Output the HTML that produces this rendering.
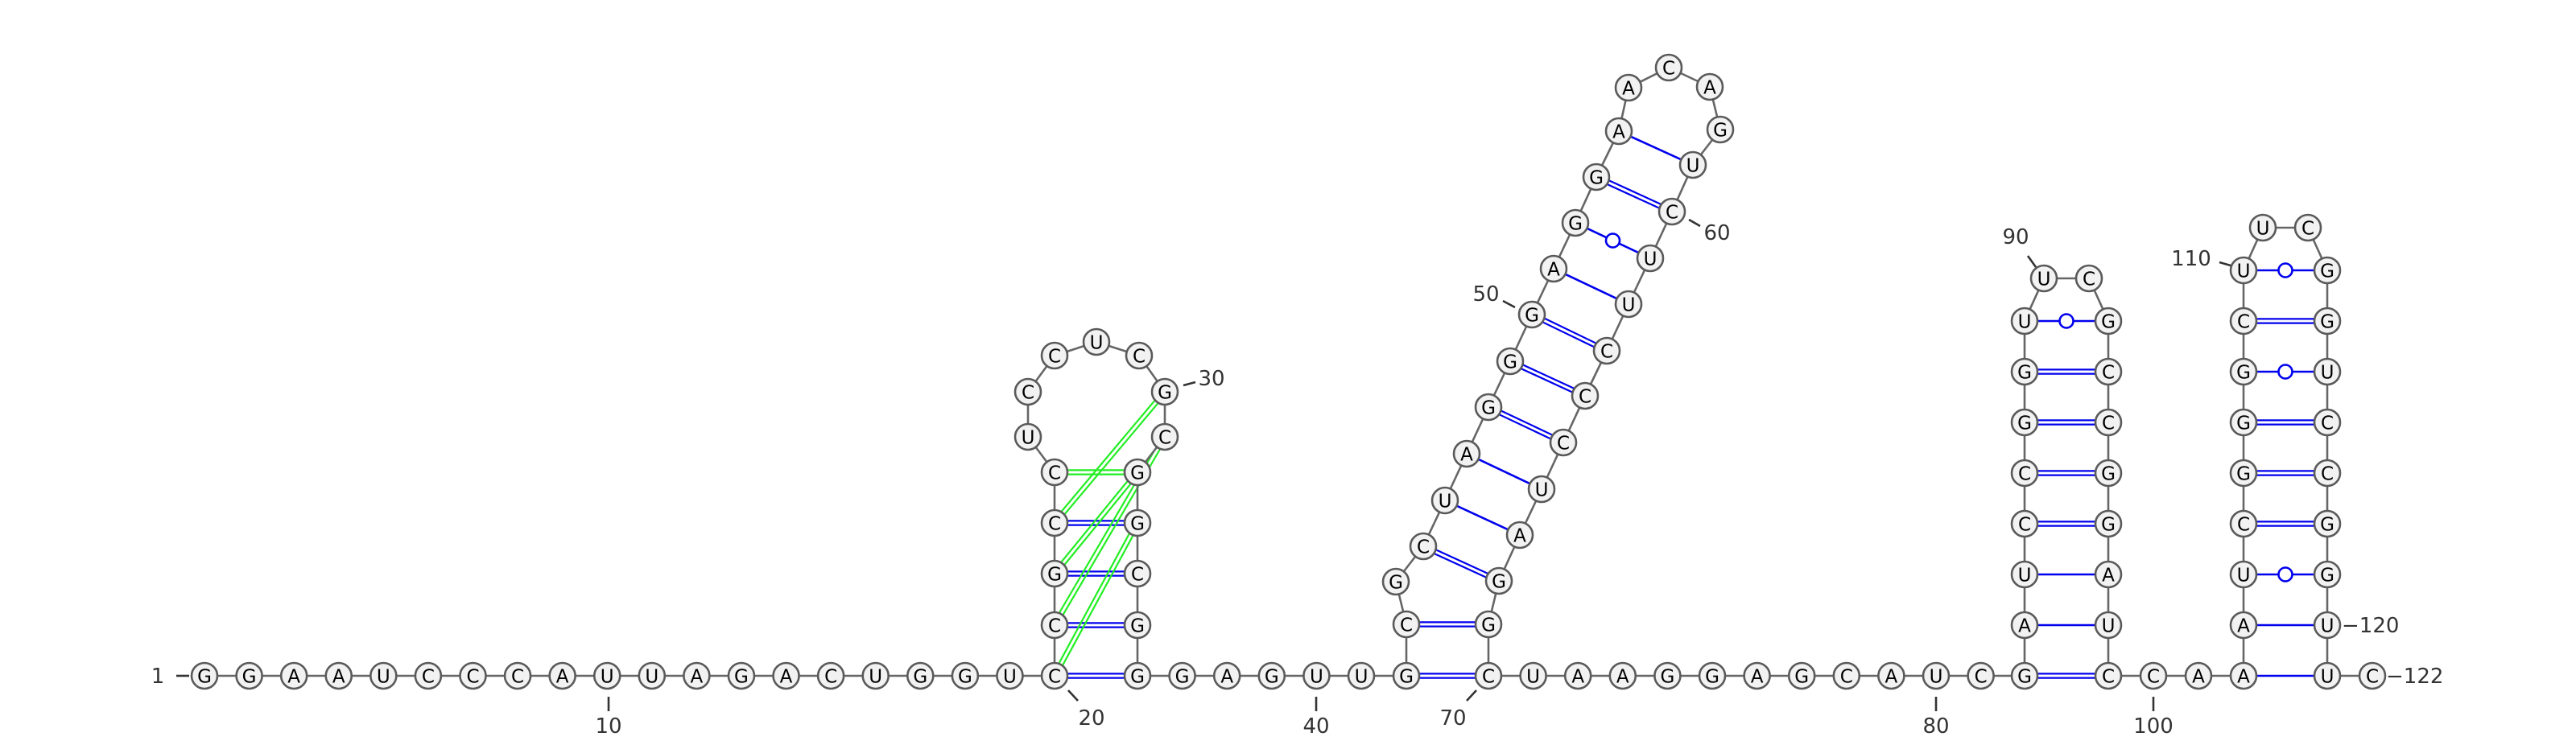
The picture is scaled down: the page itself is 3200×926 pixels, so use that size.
<!DOCTYPE html>
<html><head><meta charset="utf-8">
<style>
html,body{margin:0;padding:0;background:#fff;}
svg{display:block;}
</style></head>
<body>
<svg id="rna" width="3200" height="926" viewBox="0 0 3200 926" xmlns="http://www.w3.org/2000/svg">
<g id="pairs"></g>
<g id="backbone"></g>
<g id="nts"></g>
<g id="labels"></g>
</svg>
<script>
const sequence = "GGAAUCCCAUUAGACUGGUC" + "CGCCUCCUCGCGGCGG" + "GAGUU" +
  "GCGCUAGGGAGGAACAGUCUUCCCUAGGC" + "UAAGGAGCAUC" + "GAUCCGGUUCGCCGGAUC" +
  "CAAAUCGGGCUUCGGUCCGGUUC";
const nx = [];
const ny = [];
(function(){
  function add(x,y){ nx.push(x); ny.push(y); }
  for (let i=0;i<20;i++) add(254+i*55.58, 840);
  [[1310,777],[1310,713],[1310,650],[1310,587],[1277,543],[1277,487],[1310,442],[1362,425],
   [1415,442],[1447,487],[1447,543],[1413,587],[1413,650],[1413,713],[1413,777],[1413,840]].forEach(p=>add(p[0],p[1]));
  for (let k=1;k<=5;k++) add(1413+k*55.6, 840);
  [[1747,840],[1747,776],[1734,723],[1768,679],[1795,622],[1822,564],[1849,506],[1876,449],[1903,391],
   [1930,334],[1957,277],[1983,220],[2011,163],[2023,109],[2073,84],[2124,108],[2137,161],[2103,205],
   [2077,263],[2050,321],[2023,378],[1996,436],[1969,492],[1942,550],[1915,608],[1888,665],[1862,722],
   [1849,776],[1849,840]].forEach(p=>add(p[0],p[1]));
  for (let k=1;k<=11;k++) add(1849+k*55.6, 840);
  for (let k=0;k<8;k++) add(2515, 840-k*63);
  add(2539,346); add(2595,346);
  for (let k=7;k>=0;k--) add(2619, 840-k*63);
  add(2675,840); add(2731,840);
  for (let k=0;k<9;k++) add(2787, 840-k*63);
  add(2811,283); add(2867,283);
  for (let k=8;k>=0;k--) add(2891, 840-k*63);
  add(2947,840);
})();
// base pairs: [i, j, type] (1-based); d=double, s=single, w=wobble, g=green
const pairI = [20,21,22,23,24,23,22,21,20, 42,43,45,46,47,48,49,50,51,52,53,54, 82,83,84,85,86,87,88,89, 102,103,104,105,106,107,108,109,110];
const pairJ = [36,35,34,33,32,30,32,31,33, 70,69,68,67,66,65,64,63,62,61,60,59, 99,98,97,96,95,94,93,92, 121,120,119,118,117,116,115,114,113];
const pairT = ["d","d","d","d","g","g","g","g","g", "d","d","d","s","s","d","d","d","s","w","d","s", "d","s","s","d","d","d","d","w", "s","s","w","d","d","d","w","d","w"];
const labelText = ["1","10","20","30","40","50","60","70","80","90","100","110","−120","−122"];
const labelX = [196,756,1356,1505,1635,1846,2133,1805,2405,2504,2675,2722,2909,2964];
const labelY = [840,902,892,470,902,365,289,892,902,294,902,321,777,840];
const labelAnchor = ["middle","middle","middle","middle","middle","middle","middle","middle","middle","middle","middle","middle","start","start"];
const tickLines = [[219,840,235,840],[756,866,756,884],[1327,858,1339,871],[1470,479,1485,475],[1635,866,1635,884],
  [1867,374,1882,382],[2098,273,2112,281],[1834,858,1822,871],[2405,866,2405,884],[2519,318,2529,332],
  [2675,866,2675,884],[2757,326,2771,330]];

const NS="http://www.w3.org/2000/svg";
function mk(tag, attrs, parent){ const e=document.createElementNS(NS,tag); for(const k in attrs) e.setAttribute(k,attrs[k]); parent.appendChild(e); return e; }
const gP=document.getElementById('pairs'), gB=document.getElementById('backbone'), gN=document.getElementById('nts'), gL=document.getElementById('labels');
const R=16;
for (let i=0;i<nx.length-1;i++){
  const l=mk('line',{x1:nx[i],y1:ny[i],x2:nx[i+1],y2:ny[i+1],stroke:'#666','stroke-width':2.6},gB);
  
  
}
for (let p=0;p<pairI.length;p++){
  const a=pairI[p]-1,b=pairJ[p]-1,t=pairT[p];
  const x1=nx[a],y1=ny[a],x2=nx[b],y2=ny[b];
  const dx=x2-x1,dy=y2-y1,L=Math.hypot(dx,dy),ux=dx/L,uy=dy/L,px=-uy,py=ux;
  const sx=x1+ux*R, sy=y1+uy*R, ex=x2-ux*R, ey=y2-uy*R;
  const g=mk('g',{},gP);
  
  
  const col = t==='g' ? '#22ee22' : '#0000ee';
  if (t==='d' || t==='g'){
    [-2.6,2.6].forEach(o=>mk('line',{x1:sx+px*o,y1:sy+py*o,x2:ex+px*o,y2:ey+py*o,stroke:col,'stroke-width':2.2},g));
  } else if (t==='s'){
    mk('line',{x1:sx,y1:sy,x2:ex,y2:ey,stroke:col,'stroke-width':2.6},g);
  } else {
    mk('line',{x1:sx,y1:sy,x2:ex,y2:ey,stroke:col,'stroke-width':2.6},g);
    mk('circle',{cx:(x1+x2)/2,cy:(y1+y2)/2,r:8.5,fill:'#fff',stroke:col,'stroke-width':2.6},g);
  }
}
for (let i=0;i<nx.length;i++){
  const g=mk('g',{},gN);
  
  
  mk('circle',{cx:nx[i],cy:ny[i],r:R,fill:'#f2f2f2',stroke:'#5a5a5a','stroke-width':2.6},g);
  const t=mk('text',{x:nx[i],y:ny[i]+8.5,'text-anchor':'middle','font-family':'"DejaVu Sans","Liberation Sans",sans-serif','font-size':23,fill:'#000'},g);
  t.textContent=sequence[i];
}
tickLines.forEach(tl=>{
  const l=mk('line',{x1:tl[0],y1:tl[1],x2:tl[2],y2:tl[3],stroke:'#333','stroke-width':2.6},gL);
  
  
});
for (let i=0;i<labelText.length;i++){
  const t=mk('text',{x:labelX[i],y:labelY[i]+9,'text-anchor':labelAnchor[i],'font-family':'"DejaVu Sans","Liberation Sans",sans-serif','font-size':26,fill:'#333'},gL);
  
  
  t.textContent=labelText[i];
}
</script>
</body></html>
